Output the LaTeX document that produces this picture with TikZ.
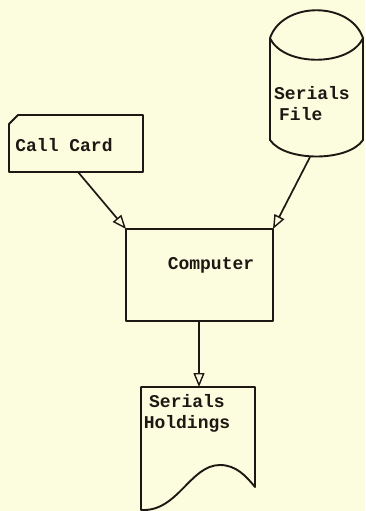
\documentclass[tikz,border=0pt]{standalone}
\usepackage{fontspec}
\setmainfont{Liberation Mono}
\usetikzlibrary{arrows.meta}
\definecolor{paper}{RGB}{252,252,222}
\definecolor{ink}{RGB}{30,24,20}

\tikzset{
	shape line/.style={draw=ink, line width=1.9pt, line join=round},
	flow/.style={draw=ink, line width=1.7pt, -{Triangle[open, length=14pt, width=11pt, line width=1.4pt]}},
	boxtext/.style={text=ink, font=\bfseries\fontsize{18}{21}\selectfont, inner sep=0pt}
}

\begin{document}
\begin{tikzpicture}[x=1pt, y=-1pt]
			\fill[paper] (0,0) rectangle (365,511);
			\useasboundingbox (0,0) rectangle (365,511);
			
			%% call card, corner cut off
			\draw[shape line] (9,124) -- (18,115) -- (143,115) -- (143,172) -- (9,172) -- cycle;
			\node[boxtext] (callcard) at (64,145) {Call Card};
			\coordinate (callcard out) at (78,172);
			
			%% serials file drum
			\draw[shape line] (270,38) .. controls (283,1) and (350,1) .. (363,38)
				.. controls (350,67) and (283,67) .. (270,38);
			\draw[shape line] (270,38) -- (270,140) .. controls (285,162) and (348,162) .. (363,140) -- (363,38);
			\node[boxtext, align=left] (serialsfile) at (312,104) {Serials\\\hspace{5pt}File};
			\coordinate (file out) at (310,157);
			
			%% computer
			\draw[shape line] (126,229) rectangle (273,321);
			\node[boxtext] (computer) at (211,265) {Computer};
			\coordinate (computer nw) at (126,229);
			\coordinate (computer ne) at (273,229);
			\coordinate (computer out) at (199,321);
			
			%% printed report
			\draw[shape line] (199,387) -- (141,387) -- (141,510)
				.. controls (178,512) and (190,465) .. (220,465)
				.. controls (236,465) and (246,476) .. (255,487) -- (255,387) -- cycle;
			\node[boxtext, align=center] (holdings) at (187,413) {Serials\\Holdings};
			\coordinate (holdings in) at (199,387);
			
			\draw[flow] (callcard out) -- (computer nw);
			\draw[flow] (file out) -- (computer ne);
			\draw[flow] (computer out) -- (holdings in);
\end{tikzpicture}
\end{document}
